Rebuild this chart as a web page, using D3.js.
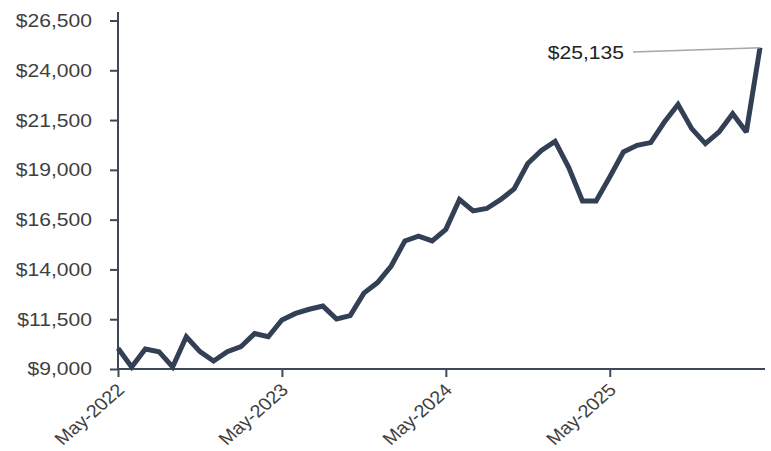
<!DOCTYPE html>
<html>
<head>
<meta charset="utf-8">
<script src="https://cdn.jsdelivr.net/npm/d3@7"></script>
<style>
  html, body { margin: 0; padding: 0; background: #fff; }
  svg { display: block; font-family: "Liberation Sans", Arial, sans-serif; }
</style>
</head>
<body>
<svg id="chart" width="771" height="451"></svg>
<script>
// Monthly account value, May-2022 through Apr-2026
const months = [
  "2022-05","2022-06","2022-07","2022-08","2022-09","2022-10","2022-11","2022-12",
  "2023-01","2023-02","2023-03","2023-04","2023-05","2023-06","2023-07","2023-08",
  "2023-09","2023-10","2023-11","2023-12","2024-01","2024-02","2024-03","2024-04",
  "2024-05","2024-06","2024-07","2024-08","2024-09","2024-10","2024-11","2024-12",
  "2025-01","2025-02","2025-03","2025-04","2025-05","2025-06","2025-07","2025-08",
  "2025-09","2025-10","2025-11","2025-12","2026-01","2026-02","2026-03","2026-04"
];
const values = [
  10040, 9100, 10000, 9870, 9100, 10620, 9870, 9400,
  9870, 10120, 10780, 10620, 11460, 11790, 12000, 12160,
  11510, 11680, 12810, 13340, 14170, 15430, 15670, 15430,
  16010, 17510, 16940, 17060, 17500, 18040, 19320, 19980,
  20430, 19120, 17440, 17440, 18640, 19900, 20230, 20370,
  21400, 22280, 21070, 20320, 20900, 21820, 20900, 25135
];
const yTicks = [9000, 11500, 14000, 16500, 19000, 21500, 24000, 26500];
const xTickMonths = ["2022-05", "2023-05", "2024-05", "2025-05"];
const endLabel = "$25,135";

const monthNames = ["Jan","Feb","Mar","Apr","May","Jun","Jul","Aug","Sep","Oct","Nov","Dec"];
const fmtMonth = m => monthNames[+m.slice(5) - 1] + "-" + m.slice(0, 4);
const fmtMoney = v => "$" + d3.format(",")(v);

const svg = d3.select("#chart");
const stretch = 1.14;          // type is drawn slightly wide
const fontSize = 18.5;
const xFontSize = 17.5;
const textColor = "#404040";
const axisColor = "#3f485b";
const lineColor = "#333f54";

const x = d3.scalePoint().domain(months).range([118, 760]);
const y = d3.scaleLinear().domain([9000, 26500]).range([369, 20.5]);

// Y axis
const yAxis = svg.append("g")
  .attr("transform", `translate(${x(months[0])},0)`)
  .call(d3.axisLeft(y).tickValues(yTicks).tickSize(8).tickPadding(18).tickFormat(fmtMoney));
yAxis.select(".domain").remove();
yAxis.selectAll(".tick line").attr("stroke", axisColor).attr("stroke-width", 2);
yAxis.selectAll(".tick text")
  .attr("x", 0)
  .attr("transform", `translate(-26,0) scale(${stretch},1)`)
  .attr("fill", textColor)
  .style("font-size", fontSize + "px")
  .style("font-family", "'Liberation Sans', Arial, sans-serif");
yAxis.append("line")
  .attr("x1", 0).attr("x2", 0)
  .attr("y1", 12).attr("y2", y(9000) + 1)
  .attr("stroke", axisColor).attr("stroke-width", 2);

// X axis
const xAxis = svg.append("g")
  .attr("transform", `translate(0,${y(9000)})`)
  .call(d3.axisBottom(x).tickValues(xTickMonths).tickSize(8).tickFormat(fmtMonth));
xAxis.select(".domain").remove();
xAxis.selectAll(".tick line").attr("stroke", axisColor).attr("stroke-width", 2);
xAxis.selectAll(".tick text")
  .attr("x", 0).attr("y", 0).attr("dy", 0)
  .attr("text-anchor", "end")
  .attr("transform", `translate(7,22) scale(${stretch},1) rotate(-45)`)
  .attr("fill", textColor)
  .style("font-size", xFontSize + "px")
  .style("font-family", "'Liberation Sans', Arial, sans-serif");
xAxis.append("line")
  .attr("x1", x(months[0]) - 1).attr("x2", 765)
  .attr("y1", 0).attr("y2", 0)
  .attr("stroke", axisColor).attr("stroke-width", 2);

// Value line
const line = d3.line()
  .x((d, i) => x(months[i]))
  .y(d => y(d));
svg.append("path")
  .datum(values)
  .attr("d", line)
  .attr("fill", "none")
  .attr("stroke", lineColor)
  .attr("stroke-width", 5)
  .attr("stroke-linejoin", "miter")
  .attr("stroke-miterlimit", 2);

// Callout for the latest value
const lastI = values.length - 1;
const lx = x(months[lastI]), ly = y(values[lastI]);
svg.append("line")
  .attr("x1", 633).attr("y1", 52)
  .attr("x2", lx).attr("y2", ly)
  .attr("stroke", "#a6a6a6").attr("stroke-width", 1.6);
svg.append("text")
  .attr("transform", `translate(624,58.5) scale(${stretch},1)`)
  .attr("text-anchor", "end")
  .attr("fill", "#222")
  .style("font-size", fontSize + "px")
  .text(endLabel);
</script>
</body>
</html>
